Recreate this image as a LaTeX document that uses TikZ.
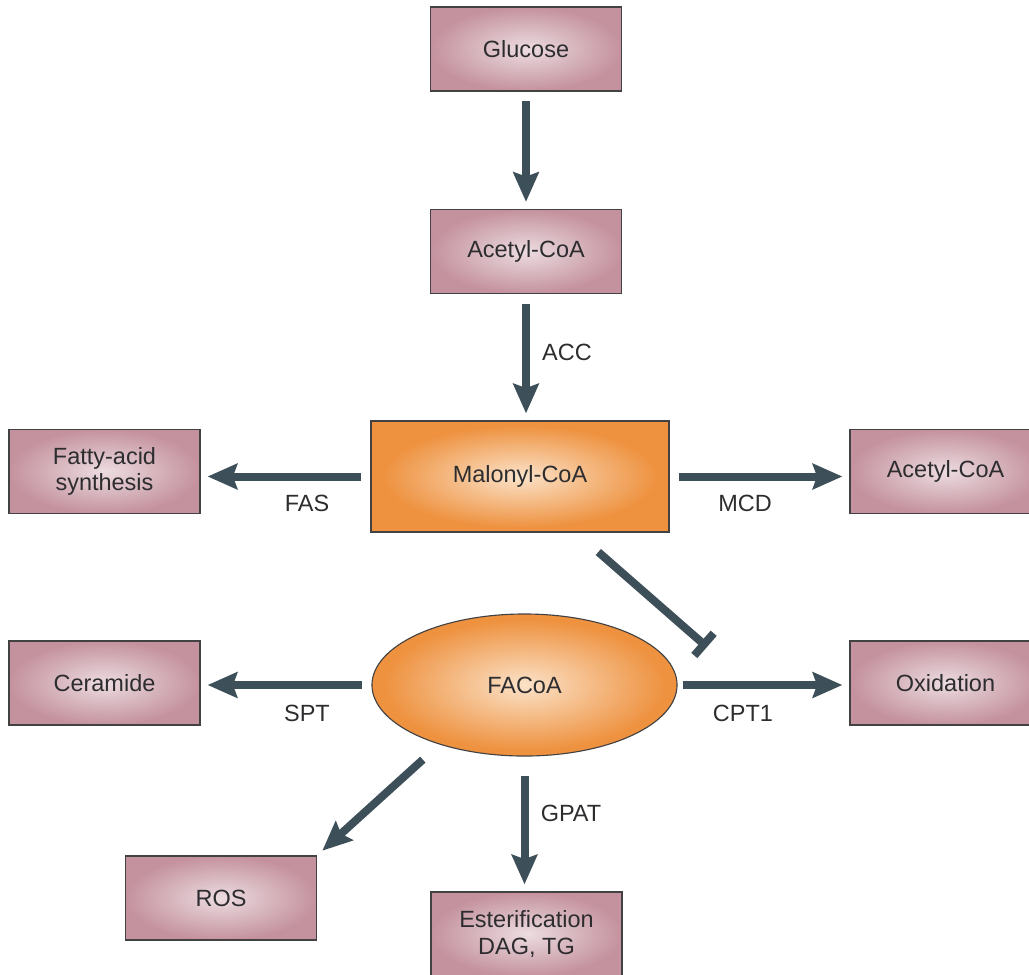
\documentclass[tikz,border=0pt]{standalone}
\usepackage{fontspec}
\setmainfont{Liberation Sans}
\usepackage{tikz}
\usetikzlibrary{arrows.meta,shapes.geometric}
\definecolor{pinkout}{RGB}{196,146,158}
\definecolor{pinkin}{RGB}{236,220,224}
\definecolor{orangeout}{RGB}{238,146,64}
\definecolor{orangein}{RGB}{251,226,200}
\definecolor{arrowgrey}{RGB}{61,79,89}
\definecolor{edgegrey}{RGB}{66,66,66}
\definecolor{txtgrey}{RGB}{45,45,48}
\pgfdeclareradialshading{pinkglow}{\pgfpointorigin}{color(0bp)=(pinkin); color(25bp)=(pinkout); color(50bp)=(pinkout)}
\pgfdeclareradialshading{orangeglow}{\pgfpointorigin}{color(0bp)=(orangein); color(23bp)=(orangeout); color(50bp)=(orangeout)}
\newcommand{\fsz}{\fontsize{16.7pt}{18.6pt}\selectfont}

\begin{document}
\begin{tikzpicture}[x=0.025cm, y=-0.025cm,
		box/.style={rectangle, draw=edgegrey, line width=0.8pt, shading=pinkglow,
			minimum width=4.775cm, minimum height=2.1cm, align=center, text=txtgrey, font=\fsz},
		hub/.style={box, shading=orangeglow, minimum width=7.45cm, minimum height=2.775cm},
		blob/.style={ellipse, draw=edgegrey, line width=0.8pt, shading=orangeglow, inner sep=0pt,
			minimum width=7.625cm, minimum height=3.55cm, text=txtgrey, font=\fsz},
		lbl/.style={text=txtgrey, font=\fsz, inner sep=0pt},
		flow/.style={draw=arrowgrey, line width=5.7pt, shorten <=7pt, shorten >=5pt,
			-{Stealth[length=21pt, width=18pt, inset=3pt]}},
		inhib/.style={draw=arrowgrey, line width=5.7pt, shorten <=21pt, -{Bar[width=21pt]}}]
				\useasboundingbox (0,0) rectangle (1029,974);
				\node[box] (glu) at (526,49) {Glucose};
				\node[box] (acoa) at (526,251.5) {Acetyl-CoA};
				\node[hub] (mal) at (520,476.5) {Malonyl-CoA};
				\node[box] (fas) at (104.5,471.5) {Fatty-acid\\synthesis};
				\node[box] (acoa2) at (945.5,471.5) {Acetyl-CoA};
				\node[blob] (fa) at (524.5,685) {FACoA};
				\node[box] (cer) at (104.5,683) {Ceramide};
				\node[box] (oxi) at (945.5,683) {Oxidation};
				\node[box] (ros) at (221,898) {ROS};
				\node[box] (est) at (526.5,934) {Esterification\\DAG, TG};
				\coordinate (cpt) at (707,647);
				% pathway arrows
				\draw[flow] (glu) -- (acoa);
				\draw[flow] (acoa) -- (acoa |- mal.north);
				\draw[flow] (mal.west) -- (mal.west -| fas.east);
				\draw[flow] (mal.east) -- (mal.east -| acoa2.west);
				\draw[flow] (fa.west) -- (fa.west -| cer.east);
				\draw[flow, shorten <=4pt] (fa.east) -- (fa.east -| oxi.west);
				\draw[flow, shorten <=14pt] (fa.south) -- (fa.south |- est.north);
				\draw[flow, shorten <=16pt] (fa.215) -- (ros.north east);
				\draw[inhib] (mal.-45) -- (cpt);
				% enzymes
				\node[lbl] (accl) at (567,352) {ACC};
				\node[lbl] (fasl) at (307,503) {FAS};
				\node[lbl] (mcdl) at (745,503) {MCD};
				\node[lbl] (sptl) at (307,713) {SPT};
				\node[lbl] (cptl) at (743,713) {CPT1};
				\node[lbl] (gpatl) at (571,813) {GPAT};
			\end{tikzpicture}
\end{document}
